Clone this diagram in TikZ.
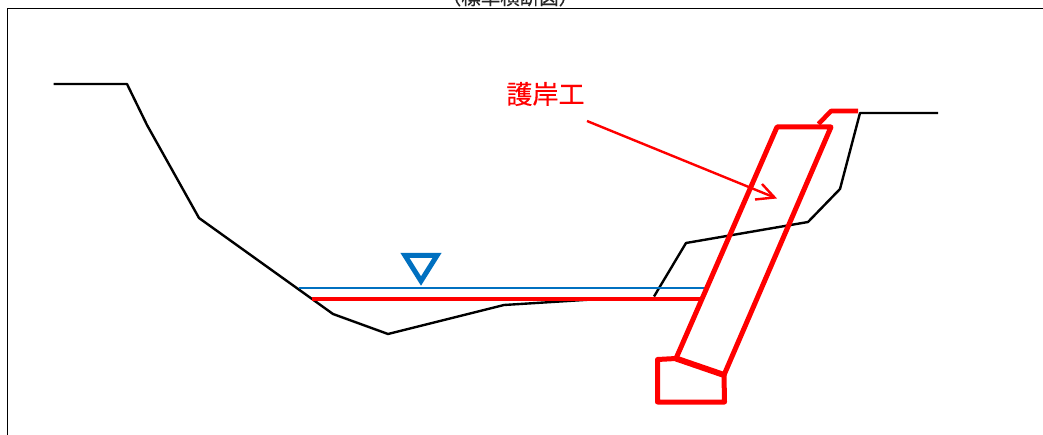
\documentclass[tikz,border=0pt]{standalone}
\usepackage{fontspec}
\newfontfamily\cjk{Noto Sans CJK JP}
\newfontfamily\cjkb[FakeBold=0.4]{Noto Sans CJK JP}
\definecolor{wblue}{RGB}{0,112,192}
\definecolor{pred}{RGB}{255,0,0}
\tikzset{
  ground/.style={draw=black,line width=2.4pt,line join=round},
  wall/.style={draw=pred,line width=5pt,line join=round},
  water/.style={draw=wblue,line width=2.4pt},
  lbl/.style={inner sep=0pt}
}
\begin{document}
\begin{tikzpicture}[x=1pt,y=-1pt]
\useasboundingbox (0,0) rectangle (1043,435);
% frame
\coordinate (fa) at (7.5,435);
\coordinate (fb) at (7.5,8.5);
\coordinate (fc) at (1043,8.5);
\draw[black,line width=1pt] (fa) -- (fb) -- (fc);
\node[lbl,font=\cjkb\fontsize{19.5}{20}\selectfont,text=black!85,anchor=base] (title) at (510,4.6) {（標準横断図）};
% ground
\coordinate (g1) at (53.5,84);
\coordinate (g2) at (127,84);
\coordinate (g3) at (147,125);
\coordinate (g4) at (199,218);
\coordinate (g5) at (333,314);
\coordinate (g6) at (388,334);
\coordinate (g7) at (504,305);
\coordinate (g7b) at (600,299);
\coordinate (g8) at (654,296.5);
\coordinate (g9) at (686,243);
\coordinate (g10) at (808,222);
\coordinate (g11) at (840,189);
\coordinate (g12) at (860,113);
\coordinate (g13) at (938,113);
\draw[ground] (g1)--(g2)--(g3)--(g4)--(g5)--(g6)--(g7)--(g7b);
\draw[ground] (g8)--(g9)--(g10)--(g11)--(g12)--(g13);
% water
\coordinate (w1) at (299,288);
\coordinate (w2) at (708,288);
\draw[water] (w1)--(w2);
\coordinate (t1) at (405,255.5);
\coordinate (t2) at (437,255.5);
\coordinate (t3) at (421,281);
\draw[draw=wblue,line width=5pt,line join=miter] (t1)--(t2)--(t3)--cycle;
% bed
\coordinate (b1) at (312,299);
\coordinate (b2) at (700,299);
\draw[pred,line width=4.6pt] (b1)--(b2);
% wall
\coordinate (r1) at (777,127);
\coordinate (r2) at (831,127);
\coordinate (r3) at (724,375);
\coordinate (r4) at (676,358.5);
\draw[wall] (r4)--(r1)--(r2)--(r3);
\draw[draw=pred,line width=6pt] (r3)--(r4);
% foot
\coordinate (f1) at (657.5,359.5);
\coordinate (f2) at (657.5,402);
\coordinate (f3) at (724.5,402);
\draw[wall] (r4)--(f1)--(f2)--(f3)--(r3);
% top cap
\coordinate (c1) at (818.5,124);
\coordinate (c2) at (831,111);
\coordinate (c3) at (858,111);
\draw[draw=pred,line width=4.6pt,line join=round] (c1)--(c2)--(c3);
% label and arrow
\node[lbl,font=\cjkb\fontsize{26}{26}\selectfont,text=pred] (kg) at (545.5,94) {護岸工};
\coordinate (a1) at (587,121);
\coordinate (a2) at (774.5,197.5);
\coordinate (a3) at (762,184);
\coordinate (a4) at (755,199.5);
\draw[draw=pred,line width=2.4pt] (a1)--(a2);
\draw[draw=pred,line width=2.4pt,line join=miter] (a3)--(a2)--(a4);
\end{tikzpicture}
\end{document}
